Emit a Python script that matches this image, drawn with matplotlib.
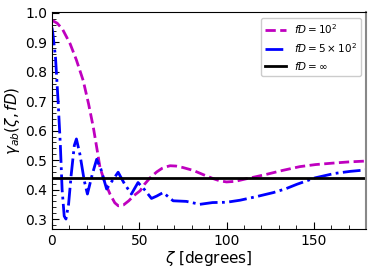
import matplotlib
matplotlib.use("Agg")
import matplotlib.pyplot as plt
from matplotlib.ticker import MultipleLocator

# magenta dashed: fD = 10^2
zeta_100 = [0, 3, 6, 10.4, 14, 17.9, 21, 23.7, 26, 27.5, 30, 33.3, 36, 38, 41, 44, 47, 50.5, 53, 56.2, 60,
            63, 65.8, 67.7, 71, 75, 81, 87, 92.5, 96, 100, 105, 111.5, 117, 123, 132, 142, 151, 161, 170, 180]
gamma_100 = [0.975, 0.965, 0.945, 0.895, 0.84, 0.77, 0.69, 0.611, 0.53, 0.475, 0.43, 0.384, 0.355, 0.345,
             0.348, 0.362, 0.38, 0.396, 0.418, 0.44, 0.46, 0.472, 0.478, 0.481, 0.48, 0.475, 0.465, 0.45,
             0.437, 0.43, 0.426, 0.428, 0.437, 0.444, 0.452, 0.465, 0.478, 0.485, 0.49, 0.494, 0.497]

# blue dash-dot: fD = 5 x 10^2
zeta_500 = [0, 0.5, 2, 3.5, 4.8, 5.8, 7, 8, 9.5, 11, 12.8, 14, 16, 18.5, 20.3, 23, 25.6, 28, 31.3, 34.5,
            37.9, 41.5, 45.5, 49.3, 53, 57, 60, 63.7, 69.4, 77, 84.7, 92, 100, 107.8, 117, 126.9, 134,
            140.3, 150.8, 162, 171, 180]
gamma_500 = [0.95, 0.93, 0.85, 0.7, 0.55, 0.4, 0.31, 0.30, 0.35, 0.45, 0.55, 0.572, 0.52, 0.43, 0.385,
             0.45, 0.503, 0.47, 0.402, 0.43, 0.459, 0.42, 0.385, 0.424, 0.40, 0.37, 0.378, 0.39, 0.362,
             0.36, 0.35, 0.356, 0.357, 0.364, 0.376, 0.39, 0.403, 0.418, 0.44, 0.455, 0.462, 0.467]

# black solid: fD = infinity
zeta_inf = [0, 180]
gamma_inf = [0.441, 0.441]

labels = [r"$fD = 10^2$", r"$fD = 5\times10^2$", r"$fD = \infty$"]

fig = plt.figure(figsize=(3.74, 2.74), dpi=100)
ax = fig.add_axes([0.139, 0.164, 0.840, 0.791])

ax.plot(zeta_100, gamma_100, color="m", ls="--", lw=2, label=labels[0])
ax.plot(zeta_500, gamma_500, color="b", ls="-.", lw=2, label=labels[1])
ax.plot(zeta_inf, gamma_inf, color="k", ls="-", lw=2, label=labels[2])

ax.set_xlim(0, 180)
ax.set_ylim(0.266, 1.002)
ax.xaxis.set_major_locator(MultipleLocator(50))
ax.xaxis.set_minor_locator(MultipleLocator(10))
ax.yaxis.set_major_locator(MultipleLocator(0.1))
ax.yaxis.set_minor_locator(MultipleLocator(0.02))
ax.tick_params(which="both", direction="in", labelsize=10)
ax.tick_params(which="major", length=5)
ax.tick_params(which="minor", length=3)

ax.set_xlabel(r"$\zeta$ [degrees]", fontsize=11, labelpad=1)
ax.set_ylabel(r"$\gamma_{ab}(\zeta, fD)$", fontsize=11, labelpad=2)

ax.spines["right"].set_color("#888888")
ax.spines["right"].set_linewidth(1.5)

ax.legend(loc="upper right", fontsize=7.5, framealpha=1, edgecolor="#cccccc")

fig.savefig("out.png", dpi=100)
